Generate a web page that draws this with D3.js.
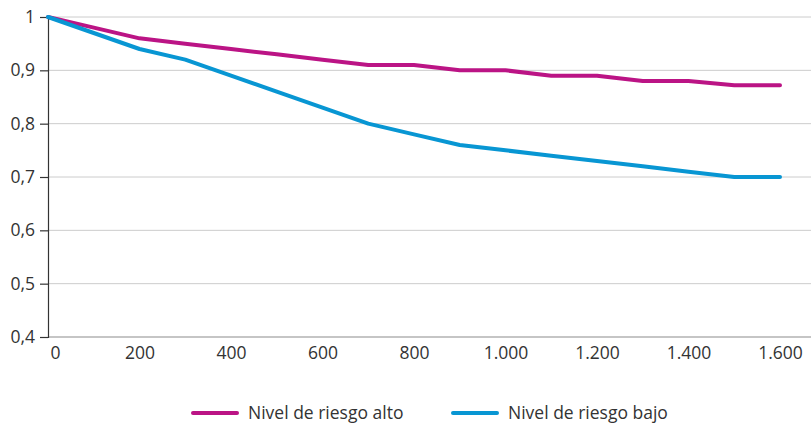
<!DOCTYPE html>
<html>
<head>
<meta charset="utf-8">
<script src="https://cdn.jsdelivr.net/npm/d3@7"></script>
<style>
  body { margin: 0; background: #fff; }
  svg { display: block; }
  text { font-family: "Open Sans", "Noto Sans", sans-serif; fill: #333; }
</style>
</head>
<body>
<svg id="chart" width="811" height="427"></svg>
<script>
const xValues = [0, 100, 200, 300, 400, 500, 600, 700, 800, 900, 1000, 1100, 1200, 1300, 1400, 1500, 1600];
const riesgoAlto = [1, 0.98, 0.96, 0.95, 0.94, 0.93, 0.92, 0.91, 0.91, 0.90, 0.90, 0.89, 0.89, 0.88, 0.88, 0.872, 0.872];
const riesgoBajo = [1, 0.97, 0.94, 0.92, 0.89, 0.86, 0.83, 0.80, 0.78, 0.76, 0.75, 0.74, 0.73, 0.72, 0.71, 0.70, 0.70];
const xTicks = [0, 200, 400, 600, 800, 1000, 1200, 1400, 1600];
const yTicks = [0.4, 0.5, 0.6, 0.7, 0.8, 0.9, 1];
const seriesNames = ["Nivel de riesgo alto", "Nivel de riesgo bajo"];
const seriesColors = ["#bb1485", "#0896d3"];

const svg = d3.select("#chart");
const mLeft = 48, mRight = 780, mTop = 17, mBottom = 337, gridRight = 811;
const fs = "17.5px";

const x = d3.scaleLinear().domain([0, 1600]).range([mLeft, mRight]);
const y = d3.scaleLinear().domain([0.4, 1]).range([mBottom, mTop]);

const fmtX = d => d === 0 ? "0" : d3.format(",")(d).replace(/,/g, ".");
const fmtY = d => d === 1 ? "1" : d.toFixed(1).replace(".", ",");

// gridlines
svg.append("g").selectAll("line").data(yTicks.filter(d => d > 0.4)).join("line")
  .attr("x1", mLeft).attr("x2", gridRight)
  .attr("y1", d => y(d)).attr("y2", d => y(d))
  .attr("stroke", "#cccccc").attr("stroke-width", 1);

// x axis
const xAxis = svg.append("g").attr("transform", `translate(0,${mBottom})`)
  .call(d3.axisBottom(x).tickValues(xTicks).tickFormat(fmtX).tickSize(0).tickPadding(10));
xAxis.select(".domain").remove();
xAxis.append("line").attr("x1", mLeft).attr("x2", gridRight).attr("y1", 0).attr("y2", 0)
  .attr("stroke", "#8c8c8c").attr("stroke-width", 1.2);
xAxis.selectAll("text").style("font-size", fs).attr("fill", "#333")
  .attr("dx", d => d === 0 ? 7 : 0);

// y axis
const yAxis = svg.append("g").attr("transform", `translate(${mLeft},0)`)
  .call(d3.axisLeft(y).tickValues(yTicks).tickFormat(fmtY).tickSize(8).tickPadding(5));
yAxis.select(".domain").attr("stroke", "#333").attr("stroke-width", 1.2);
yAxis.selectAll(".tick line").attr("stroke", "#333").attr("stroke-width", 1.2);
yAxis.selectAll("text").style("font-size", fs).attr("fill", "#333");

// lines
const line = d3.line().x((d, i) => x(xValues[i])).y(d => y(d));
[riesgoAlto, riesgoBajo].forEach((s, k) => {
  svg.append("path").datum(s)
    .attr("d", line)
    .attr("fill", "none")
    .attr("stroke", seriesColors[k])
    .attr("stroke-width", 4)
    .attr("stroke-linecap", "round")
    .attr("stroke-linejoin", "round");
});

// legend
const legendX = [193, 453];
seriesNames.forEach((name, k) => {
  const g = svg.append("g").attr("transform", `translate(${legendX[k]},413)`);
  g.append("line").attr("x1", 0).attr("x2", 44).attr("y1", 0).attr("y2", 0)
    .attr("stroke", seriesColors[k]).attr("stroke-width", 4).attr("stroke-linecap", "round");
  g.append("text").attr("x", 55).attr("y", 0).attr("dy", "0.35em")
    .style("font-size", fs).text(name);
});
</script>
</body>
</html>
